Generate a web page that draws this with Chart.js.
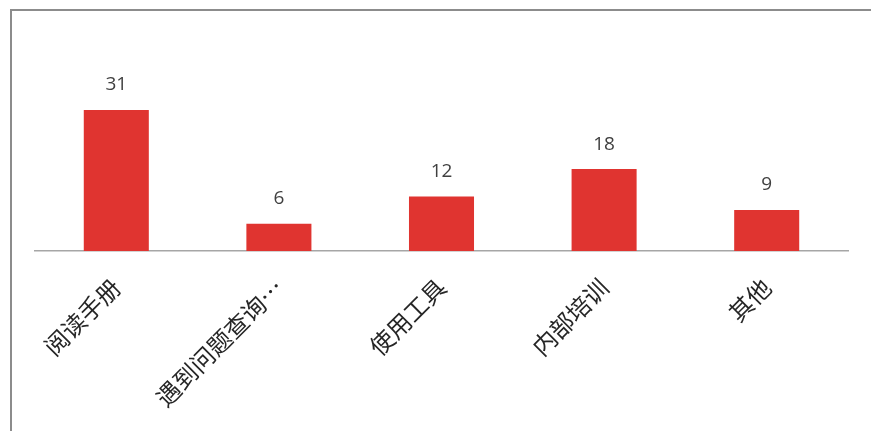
<!DOCTYPE html>
<html>
<head>
<meta charset="utf-8">
<script src="https://cdn.jsdelivr.net/npm/chart.js@4.4.0/dist/chart.umd.min.js"></script>
<style>
html,body{margin:0;padding:0;background:#fff;}
#wrap{width:871px;height:431px;position:relative;}
</style>
</head>
<body>
<div id="wrap"><canvas id="c" width="871" height="431"></canvas></div>
<script>
const categories = ['阅读手册', '遇到问题查询…', '使用工具', '内部培训', '其他'];
const values = [31, 6, 12, 18, 9];
const yMin = 0;
const yMax = 50;

const framePlugin = {
  id: 'frame',
  beforeDraw(chart) {
    const ctx = chart.ctx;
    ctx.save();
    ctx.fillStyle = '#ffffff';
    ctx.fillRect(0, 0, chart.width, chart.height);
    ctx.strokeStyle = '#8c8c8c';
    ctx.lineWidth = 2;
    ctx.beginPath();
    ctx.moveTo(11, chart.height);
    ctx.lineTo(11, 10);
    ctx.lineTo(chart.width, 10);
    ctx.stroke();
    ctx.restore();
  }
};

const valueLabels = {
  id: 'valueLabels',
  afterDatasetsDraw(chart) {
    const ctx = chart.ctx;
    const meta = chart.getDatasetMeta(0);
    ctx.save();
    ctx.font = '19px "Open Sans", "DejaVu Sans", sans-serif';
    ctx.fillStyle = '#404040';
    ctx.textAlign = 'center';
    ctx.textBaseline = 'middle';
    meta.data.forEach((bar, i) => {
      ctx.fillText(String(chart.data.datasets[0].data[i]), bar.x, bar.y - 25);
    });
    ctx.restore();
  }
};

new Chart(document.getElementById('c'), {
  type: 'bar',
  data: {
    labels: categories,
    datasets: [{
      data: values,
      backgroundColor: '#E03430',
      borderWidth: 0,
      categoryPercentage: 1.0,
      barPercentage: 0.4
    }]
  },
  options: {
    responsive: false,
    animation: false,
    layout: { padding: { left: 35, right: 23, top: 23.5, bottom: 0 } },
    plugins: { legend: { display: false }, tooltip: { enabled: false } },
    scales: {
      y: { display: false, min: yMin, max: yMax },
      x: {
        grid: { display: false, drawTicks: false },
        border: { display: true, color: '#a6a6a6', width: 1.5 },
        ticks: {
          minRotation: 45, maxRotation: 45,
          padding: 22,
          color: '#262626',
          font: { family: '"Noto Sans CJK SC", sans-serif', size: 24 }
        },
        afterFit(scale) { scale.height = 180; }
      }
    }
  },
  plugins: [framePlugin, valueLabels]
});
</script>
</body>
</html>
